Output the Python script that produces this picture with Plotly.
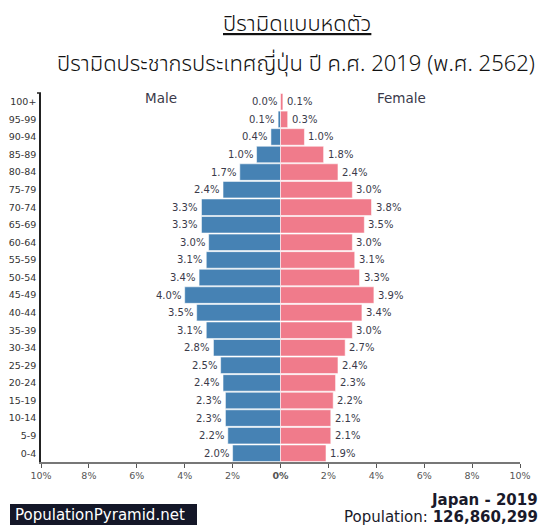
import plotly.graph_objects as go

ages = ["100+", "95-99", "90-94", "85-89", "80-84", "75-79", "70-74", "65-69",
        "60-64", "55-59", "50-54", "45-49", "40-44", "35-39", "30-34", "25-29",
        "20-24", "15-19", "10-14", "5-9", "0-4"]
male = [0.0, 0.1, 0.4, 1.0, 1.7, 2.4, 3.3, 3.3, 3.0, 3.1, 3.4, 4.0, 3.5, 3.1,
        2.8, 2.5, 2.4, 2.3, 2.3, 2.2, 2.0]
female = [0.1, 0.3, 1.0, 1.8, 2.4, 3.0, 3.8, 3.5, 3.0, 3.1, 3.3, 3.9, 3.4, 3.0,
          2.7, 2.4, 2.3, 2.2, 2.1, 2.1, 1.9]
tick_vals = [-10, -8, -6, -4, -2, 0, 2, 4, 6, 8, 10]
tick_text = ["10%", "8%", "6%", "4%", "2%", "<b>0%</b>", "2%", "4%", "6%", "8%", "10%"]

title1 = "ปิรามิดแบบหดตัว"
title2 = "ปิรามิดประชากรประเทศญี่ปุ่น ปี ค.ศ. 2019 (พ.ศ. 2562)"

BLUE = "#4682b4"
PINK = "#f07b8b"
TXT = "#3a3a4a"
FONT = "DejaVu Sans"
THAI = "Tahoma, Noto Sans Thai UI, Noto Sans Thai, Noto Sans, sans-serif"

fig = go.Figure()
fig.add_trace(go.Bar(
    y=ages, x=[-v for v in male], orientation="h", name="Male",
    marker=dict(color=BLUE, line=dict(color="rgba(255,255,255,0.55)", width=1)),
    hoverinfo="skip"))
fig.add_trace(go.Bar(
    y=ages, x=female, orientation="h", name="Female",
    marker=dict(color=PINK, line=dict(color="rgba(255,255,255,0.55)", width=1)),
    hoverinfo="skip"))

annotations = []
for a, m, f in zip(ages, male, female):
    annotations.append(dict(x=-m, y=a, xref="x", yref="y", text=f"{m:.1f}%",
                            showarrow=False, xanchor="right", yanchor="middle", xshift=-2,
                            font=dict(family=FONT, size=10, color=TXT)))
    annotations.append(dict(x=f, y=a, xref="x", yref="y", text=f"{f:.1f}%",
                            showarrow=False, xanchor="left", yanchor="middle", xshift=2,
                            font=dict(family=FONT, size=10, color=TXT)))

W, H = 555, 525
L, R, T, B = 41, 35, 93, 63
pw, ph = W - L - R, H - T - B

def px(x):
    return (x - L) / pw

def py(y):
    return (H - B - y) / ph

def note(x, y, text, font, xa="center"):
    return dict(x=px(x), y=py(y), xref="paper", yref="paper", text=text,
                showarrow=False, xanchor=xa, yanchor="middle", font=font)

annotations += [
    note(161, 98, "Male", dict(family=FONT, size=13.5, color=TXT)),
    note(401, 98, "Female", dict(family=FONT, size=13.5, color=TXT)),
    note(297, 22, f"<u>{title1}</u>", dict(family=THAI, size=22, color="#111", weight=300)),
    note(296, 62, title2, dict(family=THAI, size=22, color="#111", weight=300)),
    note(540, 500, "<b>Japan - 2019</b>", dict(family=FONT, size=15, color="#1a1a2a"), "right"),
    note(540, 517, "Population: <b>126,860,299</b>", dict(family=FONT, size=15, color="#1a1a2a"), "right"),
    note(100, 515, "PopulationPyramid.net", dict(family=FONT, size=15, color="white")),
]

fig.update_layout(
    width=W, height=H, margin=dict(l=L, r=R, t=T, b=B, pad=0, autoexpand=False),
    paper_bgcolor="white", plot_bgcolor="white",
    barmode="relative", bargap=0.06, showlegend=False,
    annotations=annotations,
    shapes=[
        dict(type="rect", xref="paper", yref="paper",
             x0=px(10), x1=px(197), y0=py(504), y1=py(528),
             fillcolor="#141728", line=dict(width=0), layer="below"),
        dict(type="line", xref="paper", yref="paper",
             x0=px(37), x1=px(41), y0=1, y1=1,
             line=dict(color="#222", width=1.5), layer="above"),
    ],
    xaxis=dict(range=[-10, 10], tickvals=tick_vals, ticktext=tick_text,
               showgrid=False, zeroline=False, showline=True, linecolor="#777",
               linewidth=1.5, ticks="outside", ticklen=4, tickcolor="#555",
               tickfont=dict(family=FONT, size=9.5, color="#555"), fixedrange=True,
               automargin=False),
    yaxis=dict(categoryorder="array", categoryarray=ages[::-1], range=[-0.5, 20.5],
               showgrid=False, zeroline=False, showline=True, linecolor="#222",
               linewidth=1.5, ticks="", ticklabelstandoff=1,
               tickfont=dict(family=FONT, size=9.5, color="#333"), fixedrange=True,
               automargin=False),
)

fig.write_html("out.html", post_script="document.body.style.margin='0';",
               config={"displayModeBar": False})
